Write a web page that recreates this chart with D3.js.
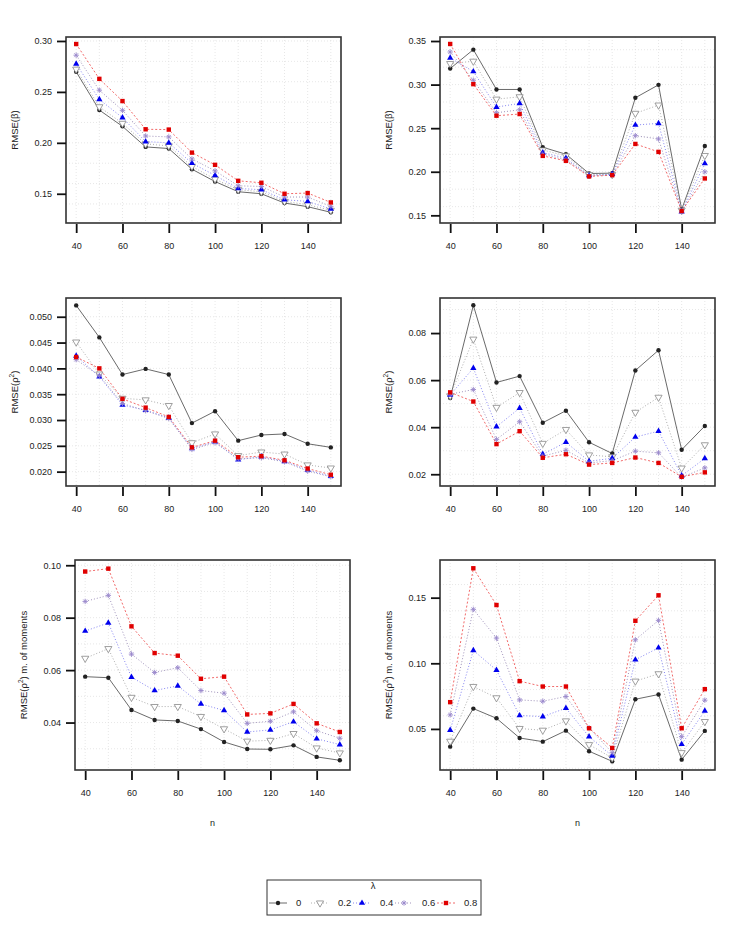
<!DOCTYPE html>
<html lang="en">
<head>
    <meta charset="UTF-8">
    <title>RMSE by n and lambda</title>
    <script src="https://d3js.org/d3.v7.min.js"></script>
    <style>
        body { margin: 0; background: #fff; }
        svg text { font-family: "Liberation Sans", Arial, sans-serif; fill: #222; }
    </style>
</head>
<body>
    <div id="chart"></div>
    <script>
        // sample sizes on the x axis
        const nValues = [40, 50, 60, 70, 80, 90, 100, 110, 120, 130, 140, 150];
        const lambdaLabels = ["0", "0.2", "0.4", "0.6", "0.8"];

        // one row per lambda (0, 0.2, 0.4, 0.6, 0.8)
        const betaLeft = [
            [0.2697, 0.2322, 0.2162, 0.1960, 0.1944, 0.1741, 0.1620, 0.1520, 0.1500, 0.1409, 0.1373, 0.1318],
            [0.2723, 0.2354, 0.2191, 0.1989, 0.1970, 0.1768, 0.1644, 0.1540, 0.1520, 0.1425, 0.1393, 0.1337],
            [0.2775, 0.2426, 0.2247, 0.2012, 0.2000, 0.1800, 0.1680, 0.1552, 0.1540, 0.1441, 0.1425, 0.1350],
            [0.2860, 0.2517, 0.2319, 0.2067, 0.2058, 0.1842, 0.1725, 0.1578, 0.1572, 0.1468, 0.1468, 0.1376],
            [0.2970, 0.2628, 0.2410, 0.2133, 0.2130, 0.1904, 0.1784, 0.1627, 0.1608, 0.1500, 0.1507, 0.1415]
        ];
        const betaRight = [
            [0.3184, 0.3401, 0.2944, 0.2944, 0.2281, 0.2201, 0.1980, 0.1984, 0.2849, 0.2997, 0.1568, 0.2296],
            [0.3241, 0.3268, 0.2833, 0.2860, 0.2250, 0.2182, 0.1968, 0.1968, 0.2670, 0.2765, 0.1558, 0.2186],
            [0.3306, 0.3150, 0.2742, 0.2784, 0.2220, 0.2155, 0.1957, 0.1972, 0.2536, 0.2555, 0.1543, 0.2094],
            [0.3374, 0.3050, 0.2677, 0.2711, 0.2201, 0.2136, 0.1953, 0.1965, 0.2414, 0.2376, 0.1539, 0.1999],
            [0.3466, 0.3005, 0.2643, 0.2662, 0.2182, 0.2125, 0.1946, 0.1961, 0.2319, 0.2228, 0.1550, 0.1923]
        ];
        const rhoLeft = [
            [0.0522, 0.0460, 0.0388, 0.0399, 0.0388, 0.0294, 0.0317, 0.0260, 0.0271, 0.0273, 0.0254, 0.0247],
            [0.0451, 0.0389, 0.0342, 0.0339, 0.0328, 0.0256, 0.0273, 0.0231, 0.0238, 0.0234, 0.0213, 0.0207],
            [0.0424, 0.0384, 0.0329, 0.0319, 0.0304, 0.0245, 0.0258, 0.0223, 0.0229, 0.0220, 0.0203, 0.0191],
            [0.0417, 0.0386, 0.0332, 0.0318, 0.0303, 0.0243, 0.0256, 0.0225, 0.0227, 0.0219, 0.0201, 0.0190],
            [0.0422, 0.0400, 0.0341, 0.0324, 0.0306, 0.0247, 0.0260, 0.0228, 0.0230, 0.0222, 0.0206, 0.0194]
        ];
        const rhoRight = [
            [0.0524, 0.0918, 0.0590, 0.0617, 0.0419, 0.0470, 0.0336, 0.0288, 0.0641, 0.0727, 0.0304, 0.0405],
            [0.0533, 0.0774, 0.0484, 0.0547, 0.0331, 0.0390, 0.0282, 0.0274, 0.0463, 0.0527, 0.0226, 0.0325],
            [0.0537, 0.0651, 0.0402, 0.0481, 0.0285, 0.0336, 0.0255, 0.0268, 0.0358, 0.0383, 0.0194, 0.0267],
            [0.0540, 0.0560, 0.0348, 0.0423, 0.0277, 0.0302, 0.0248, 0.0258, 0.0298, 0.0291, 0.0187, 0.0227],
            [0.0548, 0.0509, 0.0328, 0.0383, 0.0270, 0.0285, 0.0241, 0.0248, 0.0271, 0.0248, 0.0189, 0.0208]
        ];
        const momentsLeft = [
            [0.0575, 0.0571, 0.0448, 0.0410, 0.0406, 0.0375, 0.0326, 0.0299, 0.0298, 0.0313, 0.0269, 0.0256],
            [0.0645, 0.0682, 0.0496, 0.0461, 0.0461, 0.0423, 0.0376, 0.0329, 0.0332, 0.0358, 0.0303, 0.0284],
            [0.0749, 0.0780, 0.0573, 0.0522, 0.0540, 0.0471, 0.0446, 0.0364, 0.0372, 0.0403, 0.0338, 0.0316],
            [0.0862, 0.0885, 0.0661, 0.0591, 0.0609, 0.0522, 0.0512, 0.0397, 0.0405, 0.0441, 0.0369, 0.0340],
            [0.0976, 0.0987, 0.0767, 0.0665, 0.0655, 0.0567, 0.0575, 0.0431, 0.0435, 0.0471, 0.0397, 0.0364]
        ];
        const momentsRight = [
            [0.0365, 0.0655, 0.0581, 0.0431, 0.0403, 0.0487, 0.0330, 0.0253, 0.0726, 0.0762, 0.0266, 0.0485],
            [0.0406, 0.0823, 0.0737, 0.0503, 0.0490, 0.0561, 0.0380, 0.0279, 0.0864, 0.0920, 0.0319, 0.0556],
            [0.0490, 0.1098, 0.0948, 0.0602, 0.0594, 0.0658, 0.0441, 0.0294, 0.1027, 0.1118, 0.0383, 0.0637],
            [0.0607, 0.1411, 0.1192, 0.0721, 0.0711, 0.0747, 0.0508, 0.0319, 0.1179, 0.1327, 0.0441, 0.0719],
            [0.0704, 0.1724, 0.1444, 0.0864, 0.0823, 0.0823, 0.0505, 0.0355, 0.1324, 0.1518, 0.0505, 0.0803]
        ];

        // tick labels
        const xTicks = [40, 60, 80, 100, 120, 140];
        const betaLeftTicks = ["0.15", "0.20", "0.25", "0.30"];
        const betaRightTicks = ["0.15", "0.20", "0.25", "0.30", "0.35"];
        const rhoLeftTicks = ["0.020", "0.025", "0.030", "0.035", "0.040", "0.045", "0.050"];
        const rhoRightTicks = ["0.02", "0.04", "0.06", "0.08"];
        const momentsLeftTicks = ["0.04", "0.06", "0.08", "0.10"];
        const momentsRightTicks = ["0.05", "0.10", "0.15"];

        // series styling, by lambda
        const styles = [
            { color: "#222", line: "#444", dash: null, shape: "circle" },
            { color: "#888", line: "#999", dash: "1,2", shape: "triDown" },
            { color: "#0000ee", line: "#6666ee", dash: "1,2", shape: "triUp" },
            { color: "#9a88cc", line: "#8877aa", dash: "1,2", shape: "star" },
            { color: "#e00000", line: "#ee4444", dash: "2,2", shape: "square" }
        ];

        const width = 748, height = 936;
        const svg = d3.select("#chart").append("svg")
            .attr("width", width).attr("height", height);

        function drawMarker(g, shape, x, y, st) {
            if (shape === "circle") {
                g.append("circle").attr("cx", x).attr("cy", y).attr("r", 2.2).attr("fill", st.color);
            } else if (shape === "square") {
                g.append("rect").attr("x", x - 2.2).attr("y", y - 2.2).attr("width", 4.4).attr("height", 4.4).attr("fill", st.color);
            } else if (shape === "triUp") {
                g.append("path").attr("transform", `translate(${x},${y})`)
                    .attr("d", d3.symbol().type(d3.symbolTriangle).size(17)()).attr("fill", st.color);
            } else if (shape === "triDown") {
                g.append("path").attr("transform", `translate(${x},${y}) rotate(180)`)
                    .attr("d", d3.symbol().type(d3.symbolTriangle).size(22)())
                    .attr("fill", "#fff").attr("stroke", st.color).attr("stroke-width", 0.8);
            } else {
                const r = 2.7;
                const d = `M${x - r},${y}L${x + r},${y}M${x},${y - r}L${x},${y + r}` +
                    `M${x - r * 0.7},${y - r * 0.7}L${x + r * 0.7},${y + r * 0.7}` +
                    `M${x - r * 0.7},${y + r * 0.7}L${x + r * 0.7},${y - r * 0.7}`;
                g.append("path").attr("d", d).attr("stroke", st.color).attr("stroke-width", 0.9).attr("fill", "none");
            }
        }

        function yLabel(g, x, y, base, long) {
            const t = g.append("text")
                .attr("transform", `translate(${x},${y}) rotate(-90)`)
                .attr("text-anchor", "middle")
                .style("font-size", "9.5px");
            t.append("tspan").text(base);
            if (base.indexOf("ρ") >= 0) {
                t.append("tspan").attr("dy", -4).style("font-size", "6.5px").text("2");
                t.append("tspan").attr("dy", 4).text(long ? ") m. of moments" : ")");
            }
        }

        function panel(box, data, yDomain, yTicks, label, long, showN) {
            const x = d3.scaleLinear().domain([35.6, 154.4]).range([box.left, box.right]);
            const y = d3.scaleLinear().domain(yDomain).range([box.bottom, box.top]);
            const g = svg.append("g");

            // faint dotted grid
            g.selectAll(".gx").data(nValues).enter().append("line")
                .attr("x1", d => x(d)).attr("x2", d => x(d))
                .attr("y1", box.top).attr("y2", box.bottom)
                .attr("stroke", "#dcdcdc").attr("stroke-dasharray", "1,2").attr("stroke-width", 0.7);
            g.selectAll(".gy").data(y.ticks(10)).enter().append("line")
                .attr("x1", box.left).attr("x2", box.right)
                .attr("y1", d => y(d)).attr("y2", d => y(d))
                .attr("stroke", "#dcdcdc").attr("stroke-dasharray", "1,2").attr("stroke-width", 0.7);

            // series
            data.forEach((vals, i) => {
                const st = styles[i];
                const line = d3.line().x((d, j) => x(nValues[j])).y(d => y(d));
                g.append("path").datum(vals).attr("d", line)
                    .attr("fill", "none").attr("stroke", st.line).attr("stroke-width", 0.8)
                    .attr("stroke-dasharray", st.dash);
            });
            data.forEach((vals, i) => {
                vals.forEach((v, j) => drawMarker(g, styles[i].shape, x(nValues[j]), y(v), styles[i]));
            });

            // box
            g.append("rect").attr("x", box.left).attr("y", box.top)
                .attr("width", box.right - box.left).attr("height", box.bottom - box.top)
                .attr("fill", "none").attr("stroke", "#333").attr("stroke-width", 1.6);

            // x axis
            const xa = g.append("g").attr("transform", `translate(0,${box.bottom + 1})`)
                .call(d3.axisBottom(x).tickValues(xTicks).tickSize(9));
            xa.select(".domain").remove();
            xa.selectAll(".tick line").attr("stroke", "#111").attr("stroke-width", 1.8);
            xa.selectAll(".tick text").attr("y", 22).attr("dy", "0.35em")
                .style("font-size", "9px").attr("fill", "#222");

            // y axis
            const yVals = yTicks.map(Number);
            const ya = g.append("g").attr("transform", `translate(${box.left},0)`)
                .call(d3.axisLeft(y).tickValues(yVals).tickSize(9).tickPadding(5)
                    .tickFormat((d, i) => yTicks[i]));
            ya.select(".domain").remove();
            ya.selectAll(".tick line").attr("stroke", "#111").attr("stroke-width", 1.8);
            ya.selectAll(".tick text").style("font-size", "9px").attr("fill", "#222");

            yLabel(g, box.left - 48, (box.top + box.bottom) / 2, label, long);
            if (showN) {
                g.append("text").attr("x", (box.left + box.right) / 2).attr("y", box.bottom + 56)
                    .attr("text-anchor", "middle").style("font-size", "9px").text("n");
            }
        }

        panel({ left: 66, right: 341, top: 37, bottom: 223 }, betaLeft, [0.1213, 0.3039], betaLeftTicks, "RMSE(β)", false, false);
        panel({ left: 440, right: 715, top: 37, bottom: 223 }, betaRight, [0.1412, 0.3546], betaRightTicks, "RMSE(β)", false, false);
        panel({ left: 66, right: 341, top: 298, bottom: 486 }, rhoLeft, [0.01722, 0.05363], rhoLeftTicks, "RMSE(ρ", false, false);
        panel({ left: 440, right: 715, top: 298, bottom: 486 }, rhoRight, [0.0150, 0.0949], rhoRightTicks, "RMSE(ρ", false, false);
        panel({ left: 75, right: 350, top: 560, bottom: 770 }, momentsLeft, [0.0219, 0.1020], momentsLeftTicks, "RMSE(ρ", true, true);
        panel({ left: 440, right: 715, top: 560, bottom: 770 }, momentsRight, [0.0187, 0.1787], momentsRightTicks, "RMSE(ρ", true, true);

        // legend
        const lg = svg.append("g");
        lg.append("rect").attr("x", 267).attr("y", 880).attr("width", 214).attr("height", 35)
            .attr("fill", "#fff").attr("stroke", "#333").attr("stroke-width", 1);
        lg.append("text").attr("x", 373).attr("y", 889).attr("text-anchor", "middle")
            .style("font-size", "9.5px").text("λ");
        const lx = d3.scaleLinear().domain([0, 4]).range([278, 446]);
        lambdaLabels.forEach((lab, i) => {
            const st = styles[i];
            const cx = lx(i), cy = 903;
            lg.append("line").attr("x1", cx - 9).attr("x2", cx + 9).attr("y1", cy).attr("y2", cy)
                .attr("stroke", st.line).attr("stroke-width", 0.8).attr("stroke-dasharray", st.dash);
            drawMarker(lg, st.shape, cx, cy, st);
            lg.append("text").attr("x", cx + 18).attr("y", cy).attr("dy", "0.35em")
                .style("font-size", "9.5px").text(lab);
        });
    </script>
</body>
</html>
